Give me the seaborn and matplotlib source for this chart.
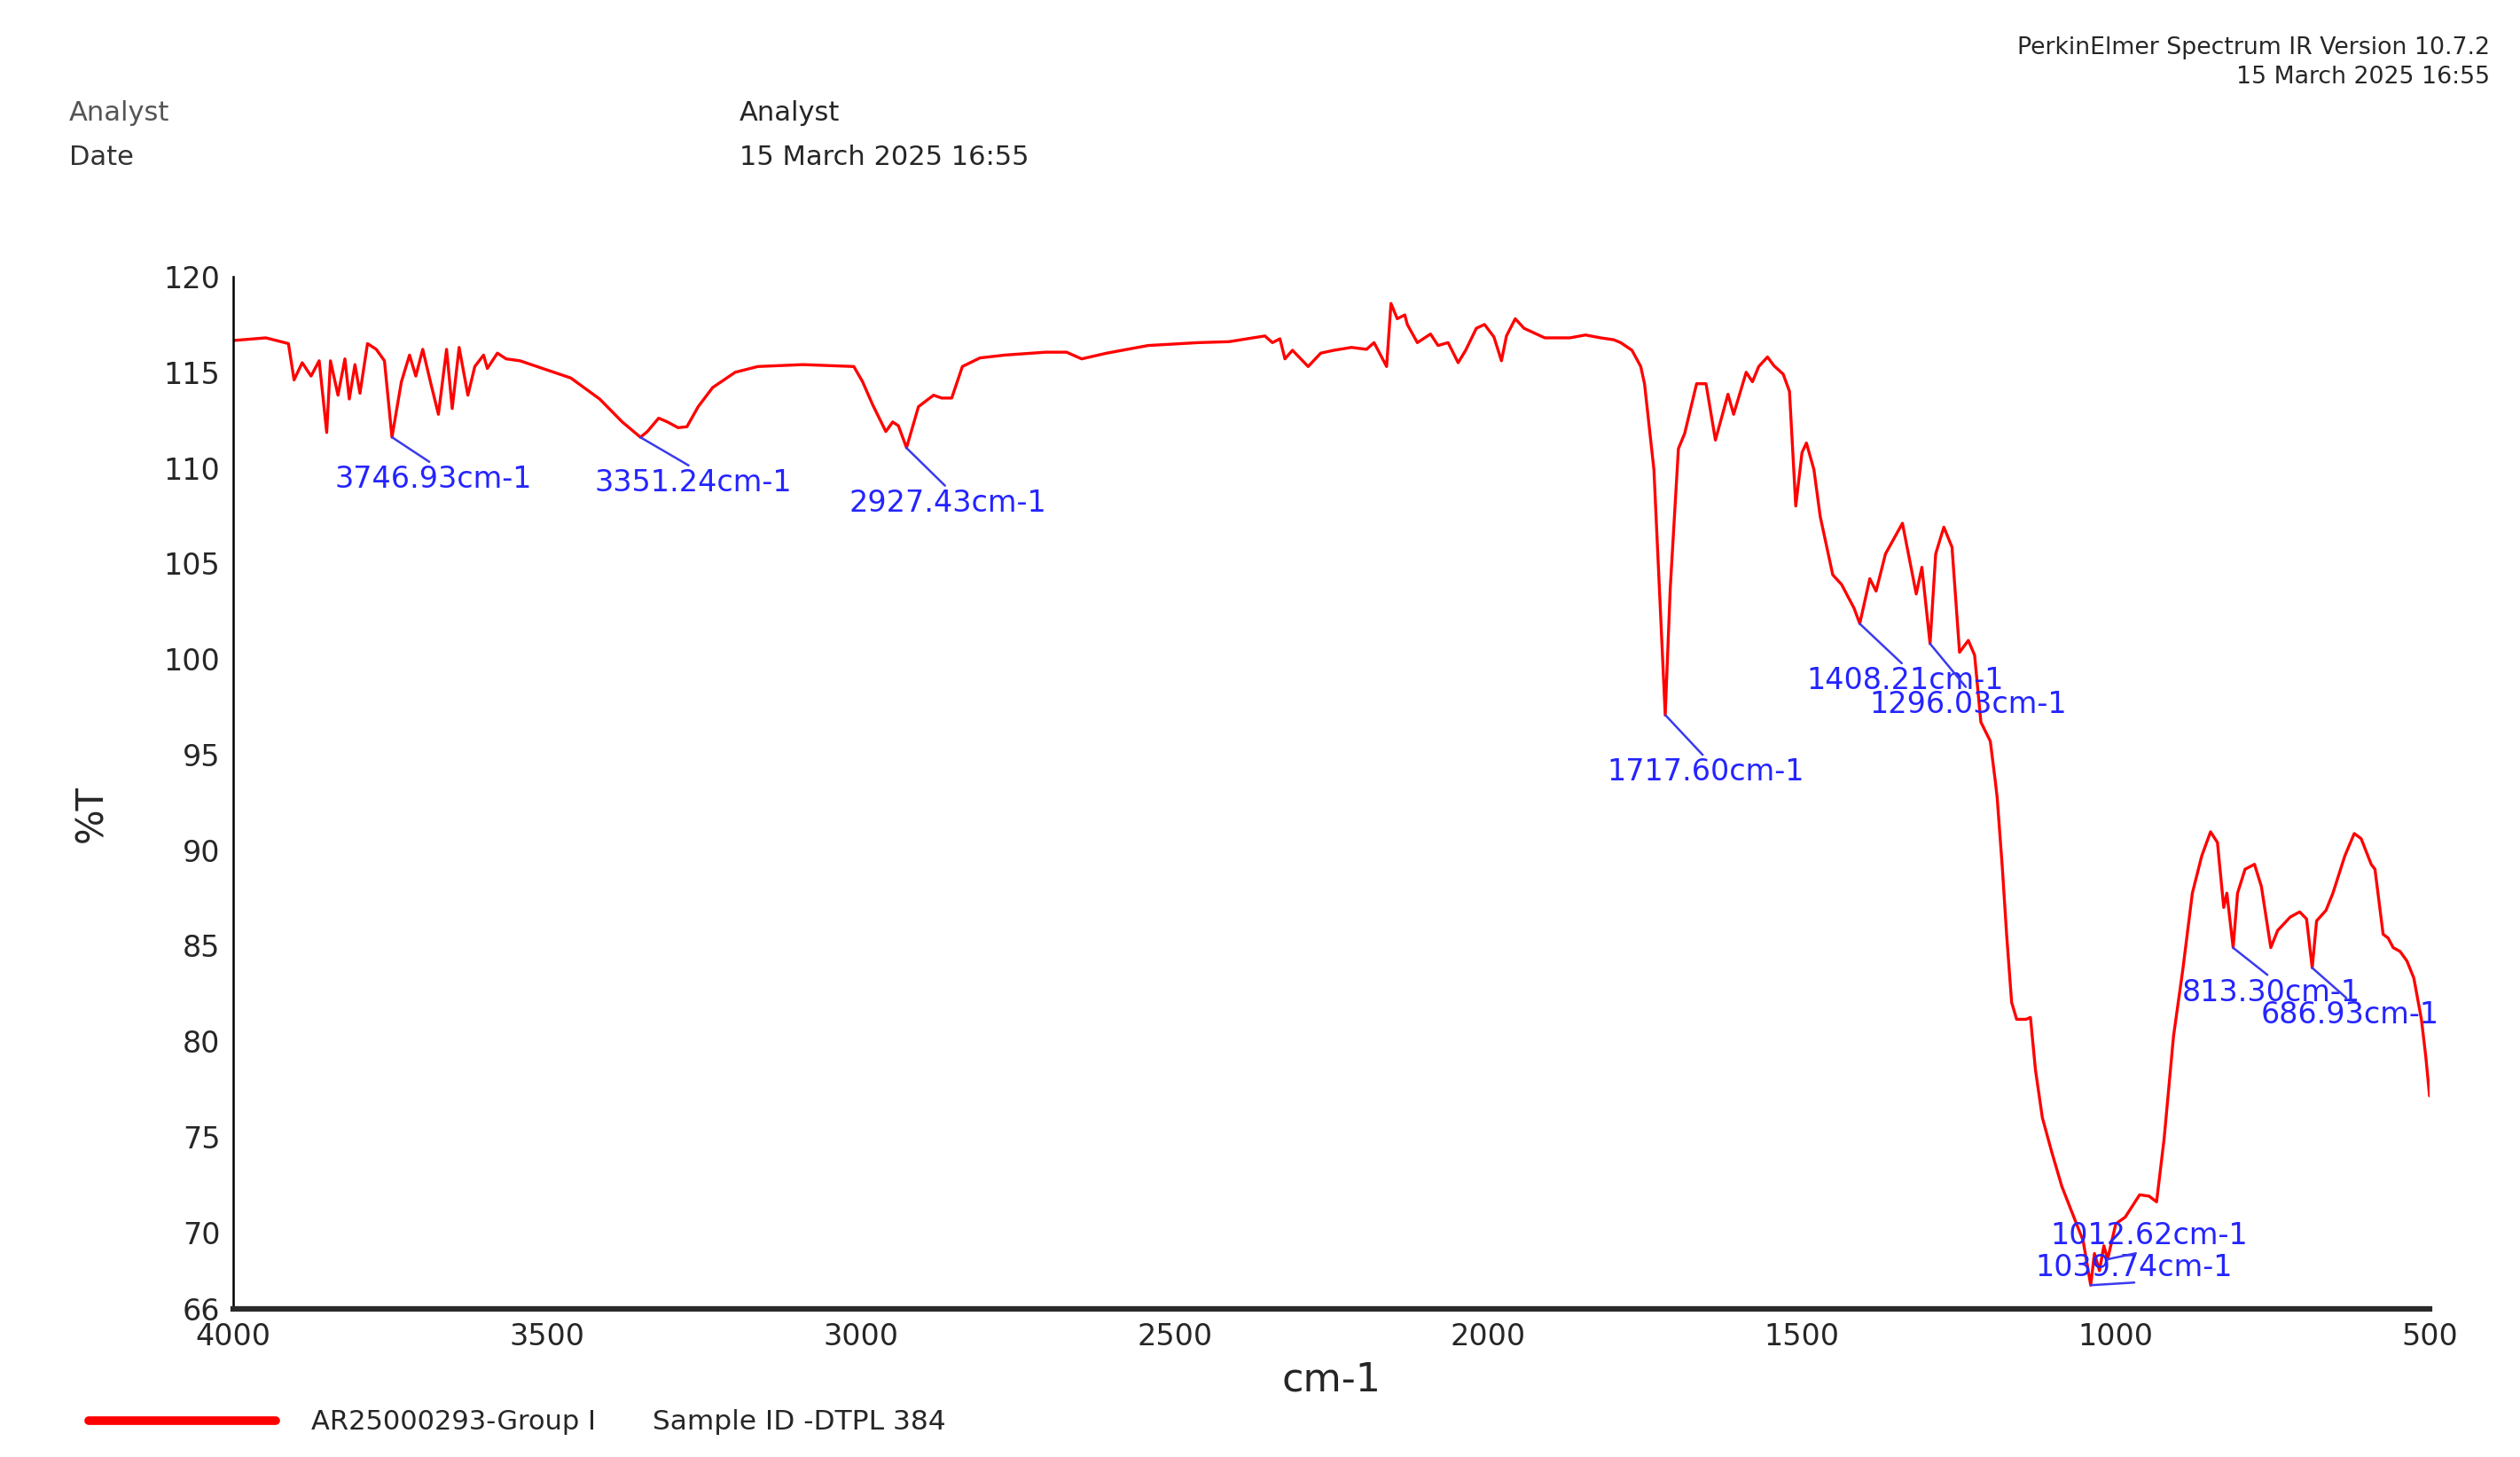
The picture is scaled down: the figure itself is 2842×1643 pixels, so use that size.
import matplotlib
matplotlib.use("Agg")
import matplotlib.pyplot as plt
import pandas as pd
import seaborn as sns

# spectrum (cm-1, %T)
wavenumber = [4000, 3948, 3912, 3903, 3890, 3876, 3863, 3851, 3845, 3833, 3822, 3815, 3806, 3798,
              3786, 3772, 3759, 3747, 3732, 3719, 3709, 3698, 3685, 3673, 3660, 3651, 3640, 3626,
              3615, 3601, 3595, 3579, 3565, 3543, 3507, 3462, 3416, 3380, 3351, 3340, 3322, 3308,
              3291, 3277, 3259, 3236, 3200, 3164, 3092, 3011, 2997, 2981, 2960, 2949, 2940, 2927,
              2908, 2884, 2871, 2855, 2838, 2810, 2770, 2705, 2672, 2648, 2608, 2542, 2462, 2413,
              2356, 2344, 2332, 2324, 2312, 2287, 2267, 2246, 2218, 2194, 2182, 2162, 2155, 2145,
              2133, 2129, 2113, 2092, 2080, 2064, 2048, 2036, 2019, 2006, 1991, 1979, 1971, 1957,
              1943, 1910, 1870, 1845, 1821, 1800, 1789, 1771, 1757, 1751, 1736, 1718, 1710, 1697,
              1687, 1668, 1653, 1638, 1618, 1609, 1589, 1579, 1569, 1555, 1545, 1530, 1520, 1510,
              1500, 1493, 1481, 1471, 1451, 1437, 1417, 1408, 1392, 1382, 1367, 1340, 1318, 1309,
              1296, 1287, 1274, 1261, 1249, 1235, 1225, 1215, 1200, 1192, 1189, 1181, 1174, 1166,
              1158, 1143, 1136, 1128, 1117, 1102, 1086, 1068, 1052, 1040, 1034, 1026, 1019, 1013,
              1000, 985, 962, 947, 935, 923, 908, 893, 878, 863, 849, 838, 828, 823, 813, 806, 794,
              779, 768, 753, 742, 722, 707, 696, 687, 680, 665, 654, 635, 620, 609, 593, 587, 574,
              566, 558, 547, 536, 525, 513, 506, 500]
transmittance = [116.66, 116.8, 116.5, 114.6, 115.5, 114.8, 115.6, 111.85, 115.6, 113.8, 115.7, 113.6,
                 115.4, 113.9, 116.5, 116.2, 115.6, 111.6, 114.5, 115.9, 114.8, 116.2, 114.4, 112.8,
                 116.2, 113.1, 116.3, 113.8, 115.3, 115.9, 115.2, 116.0, 115.7, 115.6, 115.2, 114.7,
                 113.6, 112.4, 111.6, 111.9, 112.6, 112.4, 112.1, 112.15, 113.2, 114.2, 115.0, 115.3,
                 115.4, 115.3, 114.5, 113.3, 111.9, 112.4, 112.2, 111.05, 113.2, 113.8, 113.65, 113.65,
                 115.3, 115.75, 115.9, 116.05, 116.05, 115.7, 116.0, 116.4, 116.55, 116.6, 116.9,
                 116.55, 116.75, 115.7, 116.15, 115.3, 116.0, 116.15, 116.3, 116.2, 116.55, 115.3,
                 118.6, 117.8, 118.0, 117.5, 116.55, 117.0, 116.4, 116.55, 115.5, 116.15, 117.3, 117.5,
                 116.85, 115.6, 116.9, 117.8, 117.3, 116.8, 116.8, 116.95, 116.8, 116.7, 116.55,
                 116.15, 115.3, 114.4, 109.9, 97.06, 103.7, 111.0, 111.8, 114.4, 114.4, 111.45, 113.85,
                 112.8, 115.0, 114.5, 115.3, 115.8, 115.35, 114.9, 114.0, 108.0, 110.8, 111.3, 109.9,
                 107.45, 104.4, 103.9, 102.65, 101.85, 104.2, 103.55, 105.5, 107.1, 103.4, 104.8,
                 100.8, 105.5, 106.9, 105.85, 100.35, 100.97, 100.2, 96.7, 95.7, 93.6, 92.74, 89.17,
                 85.6, 82.04, 81.15, 81.15, 81.25, 78.5, 76.0, 74.2, 72.41, 70.9, 69.56, 67.24, 68.9,
                 68.0, 69.3, 68.6, 70.45, 70.8, 71.97, 71.9, 71.6, 74.9, 80.27, 83.8, 87.75, 89.7,
                 90.96, 90.4, 87.0, 87.75, 84.9, 87.75, 89.0, 89.26, 88.1, 84.9, 85.8, 86.5, 86.77,
                 86.4, 83.84, 86.3, 86.85, 87.75, 89.7, 90.87, 90.6, 89.26, 89.0, 85.6, 85.4, 84.9,
                 84.7, 84.2, 83.3, 81.15, 79.2, 77.14]

peak_wn = [3746.93, 3351.24, 2927.43, 1717.60, 1408.21, 1296.03, 1039.74, 1012.62, 813.30, 686.93]
peak_t = [111.6, 111.6, 111.05, 97.06, 101.85, 100.8, 67.24, 68.6, 84.9, 83.84]
peak_labels = ["3746.93cm-1", "3351.24cm-1", "2927.43cm-1", "1717.60cm-1", "1408.21cm-1",
               "1296.03cm-1", "1039.74cm-1", "1012.62cm-1", "813.30cm-1", "686.93cm-1"]

x_ticks = [4000, 3500, 3000, 2500, 2000, 1500, 1000, 500]
y_ticks = [66, 70, 75, 80, 85, 90, 95, 100, 105, 110, 115, 120]

# label offsets in pixels (right, down) and which side of the text the leader meets
lab_dx = [47, 60, 47, 45, 51, 43, 49, 47, 43, 42]
lab_dy = [31, 35, 46, 48, 48, 52, -3, -10, 34, 37]
lab_va = ["top"] * 6 + ["bottom", "bottom"] + ["top", "top"]

df = pd.DataFrame({"cm-1": wavenumber, "%T": transmittance})

sns.set_style("white")
plt.rcParams["font.family"] = ["DejaVu Sans"]

W, H = 2842, 1643
fig = plt.figure(figsize=(W / 100, H / 100), dpi=100)
ax = fig.add_axes([263 / W, 1 - 1476 / H, 2477 / W, 1164 / H])

sns.lineplot(data=df, x="cm-1", y="%T", ax=ax, color="#ff0000", linewidth=2.4,
             estimator=None, sort=False, label="AR25000293-Group I")

ax.set_xlim(4000, 500)
ax.set_ylim(66, 120)
ax.set_xticks(x_ticks)
ax.set_yticks(y_ticks)
ax.tick_params(axis="both", labelsize=24, length=7, width=1.5, direction="out", color="black")
for s in ["top", "right"]:
    ax.spines[s].set_visible(False)
ax.spines["left"].set_linewidth(1.8)
ax.spines["left"].set_color("black")
ax.spines["bottom"].set_linewidth(4.5)
ax.spines["bottom"].set_color("#2a2a2a")

ax.set_xlabel("cm-1", fontsize=32)
ax.xaxis.set_label_coords(0.5, -0.05)
ax.set_ylabel("%T", fontsize=30)
ax.yaxis.set_label_coords(-0.056, 0.48)

for wn, t, lab, dx, dy, va in zip(peak_wn, peak_t, peak_labels, lab_dx, lab_dy, lab_va):
    rel = (0.5, 1) if va == "top" else (0.5, 0)
    ax.annotate(lab, xy=(wn, t), xytext=(dx * 0.72, -dy * 0.72), textcoords="offset points",
                ha="center", va=va, fontsize=24, color="#2424ff",
                arrowprops=dict(arrowstyle="-", color="#3a3af0", lw=1.8,
                                shrinkA=0, shrinkB=0, relpos=rel))

leg = ax.legend(loc="center left", bbox_to_anchor=(100 / W, 1 - 1604 / H),
                bbox_transform=fig.transFigure, frameon=False, fontsize=22,
                handlelength=6.9, handletextpad=1.3, borderpad=0, borderaxespad=0)
leg.get_lines()[0].set_linewidth(7)
fig.text(736 / W, 1 - 1604 / H, "Sample ID -DTPL 384", fontsize=22.5, va="center")

# header block
fig.text(78 / W, 1 - 127 / H, "Analyst", fontsize=22, color="#555555", va="center")
fig.text(78 / W, 1 - 178 / H, "Date", fontsize=22, color="#333333", va="center")
fig.text(834 / W, 1 - 127 / H, "Analyst", fontsize=22, va="center")
fig.text(834 / W, 1 - 178 / H, "15 March 2025 16:55", fontsize=22, va="center")
fig.text(2808 / W, 1 - 54 / H, "PerkinElmer Spectrum IR Version 10.7.2", fontsize=19.3,
         ha="right", va="center")
fig.text(2808 / W, 1 - 87 / H, "15 March 2025 16:55", fontsize=19.3, ha="right", va="center")

fig.savefig("out.png", dpi=100)
